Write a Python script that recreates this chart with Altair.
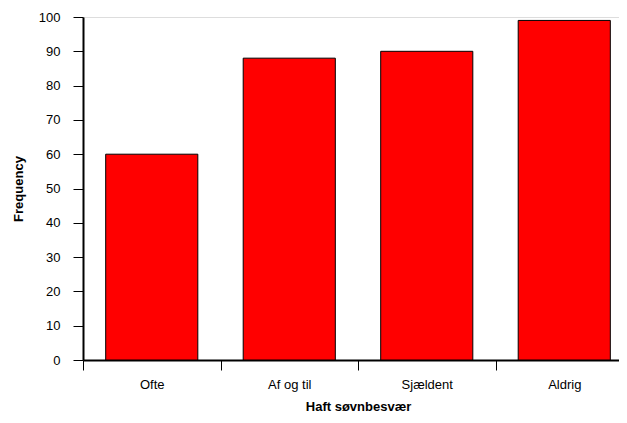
import altair as alt
import pandas as pd

categories = ["Ofte", "Af og til", "Sjældent", "Aldrig"]
frequency = [60, 88, 90, 99]
y_ticks = [0, 10, 20, 30, 40, 50, 60, 70, 80, 90, 100]

df = pd.DataFrame({"cat": categories, "freq": frequency})

FONT = "Liberation Sans"

chart = alt.Chart(df).mark_bar(
    fill="#FF0000", stroke="black", strokeWidth=1,
    width=alt.RelativeBandSize(0.67),
).encode(
    x=alt.X("cat:N", sort=categories,
            scale=alt.Scale(paddingInner=0, paddingOuter=0, range=[0, 550]),
            axis=alt.Axis(title="Haft søvnbesvær", labelAngle=0, tickBand="extent",
                          tickSize=10, labelPadding=8, labelFontSize=13,
                          labelFont=FONT, labelColor="black",
                          domainColor="black", domainWidth=2,
                          tickColor="black", tickWidth=1,
                          titleFont=FONT, titleFontSize=13, titleFontWeight="bold",
                          titleColor="black", titleX=275, titleY=46,
                          titleBaseline="middle", titleAlign="center")),
    y=alt.Y("freq:Q", scale=alt.Scale(domain=[0, 100], nice=False),
            axis=alt.Axis(title="Frequency", values=y_ticks, grid=False,
                          tickSize=10, labelPadding=13, labelFontSize=13,
                          labelFont=FONT, labelColor="black",
                          domainColor="black", domainWidth=2,
                          tickColor="black", tickWidth=1,
                          titleFont=FONT, titleFontSize=13, titleFontWeight="bold",
                          titleColor="black", titleX=-65, titleY=171.5,
                          titleAngle=270, titleBaseline="middle", titleAlign="center")),
).properties(
    width=536, height=343,
    autosize=alt.AutoSizeParams(type="none"),
    padding={"left": 75, "top": 9, "right": 0, "bottom": 55},
).configure_view(stroke=None).configure(background="white")

chart.save("out.html", embed_options={"renderer": "svg", "actions": False})
